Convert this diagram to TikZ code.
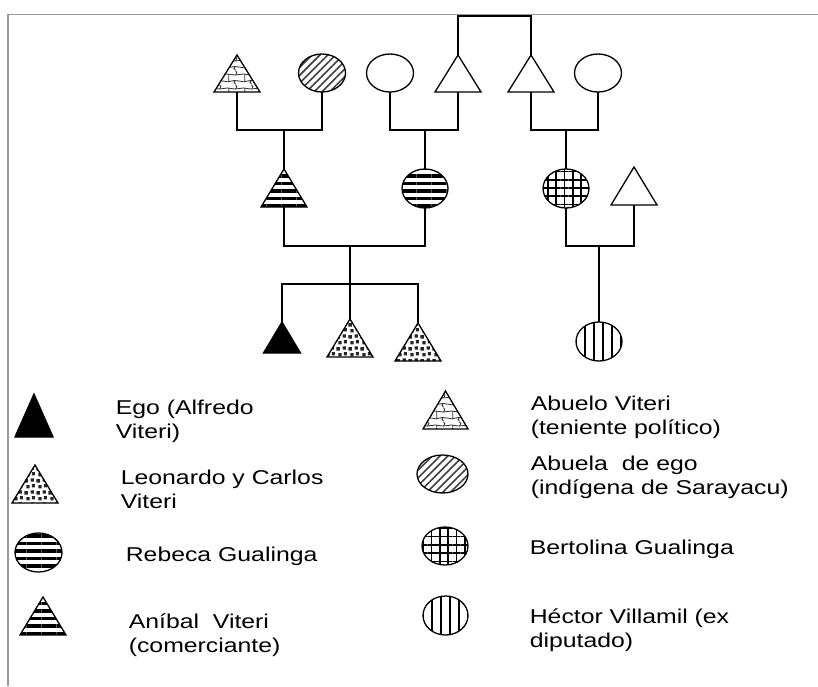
\documentclass[tikz,border=0pt]{standalone}
\usepackage{fontspec}
\setmainfont{Liberation Sans}
\usetikzlibrary{shapes.geometric,patterns,patterns.meta}

\tikzdeclarepattern{
  name=sqdots, type=colored,
  bounding box={(0pt,0pt) and (12pt,12pt)},
  tile size={(12pt,12pt)},
  code={
    \fill[black!85] (0.5pt,0.5pt) rectangle (4pt,4pt);
    \fill[black!85] (7pt,1.5pt) rectangle (10.5pt,5pt);
    \fill[black!85] (2.5pt,7pt) rectangle (6pt,10.5pt);
    \fill[black!85] (8.5pt,8pt) rectangle (11.5pt,11.5pt);
  }
}
\tikzdeclarepattern{
  name=crackle, type=colored,
  bounding box={(0pt,0pt) and (16pt,14pt)},
  tile size={(16pt,14pt)},
  code={
    \begin{scope}[black!80, line width=0.9pt]
    \draw (0pt,3pt) .. controls (5pt,0.5pt) and (9pt,5.5pt) .. (16pt,3pt);
    \draw (0pt,10pt) .. controls (4pt,12pt) and (10pt,8pt) .. (16pt,10pt);
    \draw (5pt,2.5pt) .. controls (3pt,6pt) and (7pt,7pt) .. (5pt,10.3pt);
    \draw (12pt,9.6pt) .. controls (14pt,12pt) .. (12pt,14pt);
    \draw (12pt,0pt) .. controls (10pt,1.5pt) .. (11.5pt,3.4pt);
    \end{scope}
  }
}

\newcommand\trinode[6]{%
  \node[inner sep=0pt, outer sep=0pt, minimum width=#4pt, minimum height=#5pt] (#1) at (#2,#3) {};
  \draw[#6] (#1.north) -- (#1.south east) -- (#1.south west) -- cycle;
}

\begin{document}
\begin{tikzpicture}[x=1pt, y=-1pt, line width=1.3pt,
  ell/.style={ellipse, draw, inner sep=0pt, outer sep=0pt, minimum width=46pt, minimum height=39pt},
  lbl/.style={anchor=base west, align=left, inner sep=0pt, xscale=1.24, font=\fontsize{20}{24}\selectfont},
  hstripes/.style={pattern={Lines[angle=0,distance=7.5pt,line width=3.6pt]}, pattern color=black},
  vstripes/.style={pattern={Lines[angle=90,distance=9pt,line width=2pt]}, pattern color=black},
  gridp/.style={pattern={Hatch[angle=0,distance=8.3pt,line width=1.7pt]}, pattern color=black},
  diagp/.style={pattern={Lines[angle=45,distance=5.5pt,line width=1.6pt]}, pattern color=black!75},
  dotp/.style={pattern=sqdots},
  crackp/.style={pattern=crackle},
  blackp/.style={fill=black},
  plain/.style={fill=white}
]
\useasboundingbox (0,0) rectangle (818,686);

% frame
\draw[gray!80, line width=1.5pt] (8,686) -- (8,14.5) -- (818,14.5);

% level coordinates
\coordinate (ytop) at (0,16);
\coordinate (yA) at (0,130);
\coordinate (yB) at (0,246);
\coordinate (yC) at (0,284);

% top generation
\trinode{ab}{237}{73.5}{46}{37}{crackp}
\node[ell, diagp, minimum width=47pt, minimum height=38pt] (aba) at (322,73) {};
\node[ell, minimum width=47pt, minimum height=38pt] (e1) at (390,73) {};
\trinode{t1}{458}{73.5}{46}{37}{plain}
\trinode{t2}{531}{73.5}{46}{37}{plain}
\node[ell, minimum width=47pt, minimum height=38pt] (e2) at (598,73) {};

% middle generation
\trinode{anibal}{284}{188}{46}{38}{hstripes}
\node[ell, hstripes] (rebeca) at (425,188.5) {};
\node[ell, gridp] (bert) at (566,188.5) {};
\trinode{t3}{634}{186}{46}{38}{plain}

% bottom generation
\trinode{ego}{282}{337.5}{37}{31}{blackp}
\trinode{leo}{350}{338}{46}{38}{dotp}
\trinode{car}{418}{342}{46}{38}{dotp}
\node[ell, vstripes] (hec) at (599,341.5) {};

% connectors
\draw (t1.north) -- (t1.north |- ytop) -| (t2.north);
\draw (ab.south) -- (ab.south |- yA) -| (aba.south);
\draw (anibal.north) -- (anibal.north |- yA);
\draw (e1.south) -- (e1.south |- yA) -| (t1.south);
\draw (rebeca.north) -- (rebeca.north |- yA);
\draw (t2.south) -- (t2.south |- yA) -| (e2.south);
\draw (bert.north) -- (bert.north |- yA);
\draw (anibal.south) -- (anibal.south |- yB) -| (rebeca.south);
\draw (leo.north) -- (leo.north |- yB);
\draw (ego.north) -- (ego.north |- yC) -| (car.north);
\draw (bert.south) -- (bert.south |- yB) -| (t3.south);
\draw (hec.north) -- (hec.north |- yB);

% legend symbols
\trinode{lego}{34}{415.5}{38}{43}{blackp}
\trinode{lleo}{35}{484}{46}{38}{dotp}
\node[ell, hstripes, minimum width=47pt] (lreb) at (38.5,552.5) {};
\trinode{lani}{43}{616}{46}{38}{hstripes}
\trinode{lab}{445.5}{410}{45}{38}{crackp}
\node[ell, diagp, minimum width=51pt, minimum height=38pt] (laba) at (442.5,474) {};
\node[ell, gridp, minimum height=38pt] (lber) at (445,546) {};
\node[ell, vstripes, minimum width=45pt] (lhec) at (445.5,615.5) {};

% legend texts (multi-line nodes: base = last line)
\node[lbl] (tego) at (115,438) {Ego (Alfredo\\Viteri)};
\node[lbl] (tleo) at (120,508) {Leonardo y Carlos\\Viteri};
\node[lbl] (treb) at (125,561) {Rebeca Gualinga};
\node[lbl] (tani) at (128,652) {Aníbal\ \ Viteri\\(comerciante)};
\node[lbl] (tab) at (530,434) {Abuelo Viteri\\(teniente político)};
\node[lbl] (taba) at (530,494) {Abuela\ \ de ego\\(indígena de Sarayacu)};
\node[lbl] (tber) at (529,554) {Bertolina Gualinga};
\node[lbl] (thec) at (529,647) {Héctor Villamil (ex\\diputado)};
\end{tikzpicture}
\end{document}
